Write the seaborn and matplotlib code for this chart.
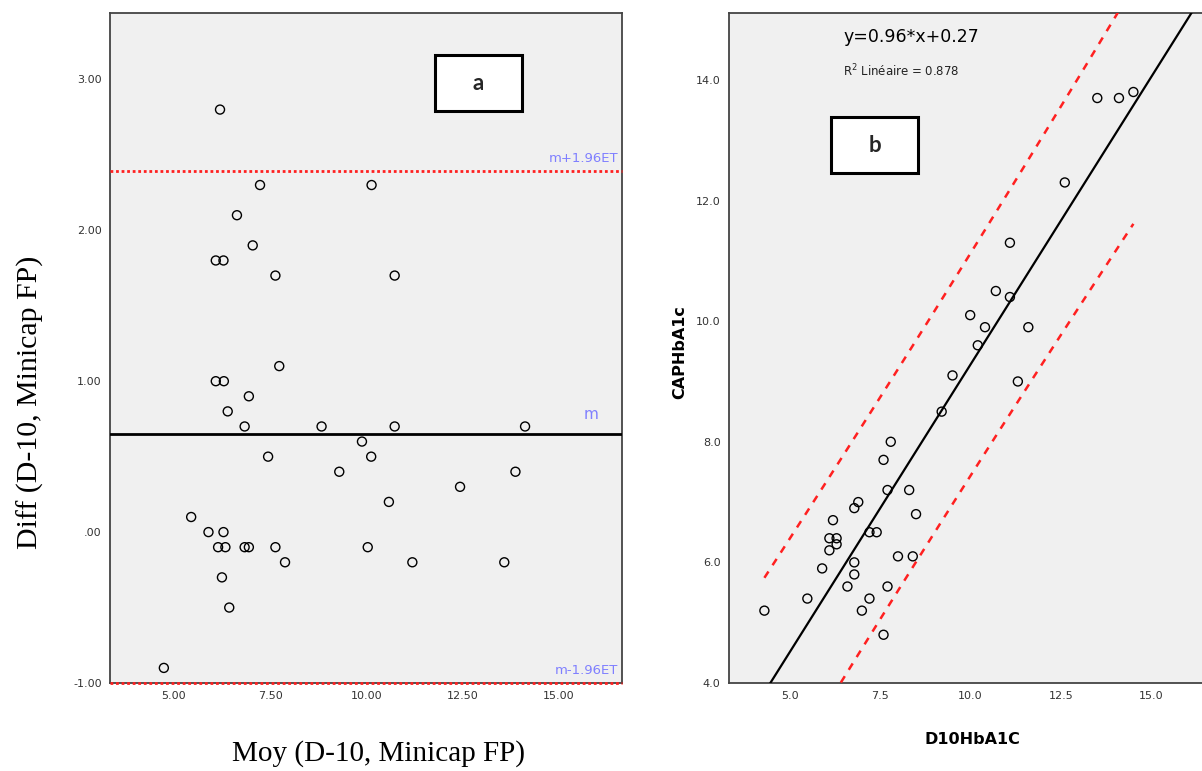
import numpy as np
import matplotlib
matplotlib.use("Agg")
import matplotlib.pyplot as plt
import seaborn as sns
from matplotlib.patches import Rectangle

#Panel a: Bland-Altman (mean of the two methods vs difference)
moy_a = [6.20, 7.24, 10.14, 6.64, 7.05, 6.09, 6.29, 7.64, 10.74,
         7.74, 6.09, 6.30, 6.95, 6.40, 6.84, 8.84, 10.74, 14.13, 9.89,
         7.45, 10.13, 9.30, 13.88, 12.44, 10.59, 5.45, 5.90, 6.29,
         6.15, 6.34, 6.84, 6.95, 7.64, 10.04, 7.89, 11.20, 13.59,
         6.25, 6.44, 4.74]
diff_a = [2.8, 2.3, 2.3, 2.1, 1.9, 1.8, 1.8, 1.7, 1.7,
          1.1, 1.0, 1.0, 0.9, 0.8, 0.7, 0.7, 0.7, 0.7, 0.6,
          0.5, 0.5, 0.4, 0.4, 0.3, 0.2, 0.1, 0.0, 0.0,
          -0.1, -0.1, -0.1, -0.1, -0.1, -0.1, -0.2, -0.2, -0.2,
          -0.3, -0.5, -0.9]
#reference lines: m-1.96ET, m, m+1.96ET
ref_lines = [-1.0, 0.65, 2.39]
ref_labels = ["m-1.96ET", "m", "m+1.96ET"]

#Panel b: D10 vs CAP HbA1c
d10 = [13.51, 14.11, 14.51, 12.61, 11.09, 10.70, 11.09, 9.99, 10.40, 11.60, 10.20,
       9.50, 11.31, 9.20, 7.79, 7.59, 7.70, 8.30, 6.89, 6.78, 8.49, 6.19, 7.20,
       7.40, 6.09, 6.29, 6.29, 6.09, 6.78, 7.99, 8.40, 5.89, 6.78, 6.59, 7.70,
       5.48, 7.20, 4.29, 6.99, 7.59]
cap = [13.7, 13.7, 13.8, 12.3, 11.3, 10.5, 10.4, 10.1, 9.9, 9.9, 9.6,
       9.1, 9.0, 8.5, 8.0, 7.7, 7.2, 7.2, 7.0, 6.9, 6.8, 6.7, 6.5,
       6.5, 6.4, 6.4, 6.3, 6.2, 6.0, 6.1, 6.1, 5.9, 5.8, 5.6, 5.6,
       5.4, 5.4, 5.2, 5.2, 4.8]
equation = "y=0.96*x+0.27"
r2_text = "R$^2$ Linéaire = 0.878"

a_xticks = [5.0, 7.5, 10.0, 12.5, 15.0]
a_xticklabels = ["5.00", "7.50", "10.00", "12.50", "15.00"]
a_yticks = [-1, 0, 1, 2, 3]
a_yticklabels = ["-1.00", ".00", "1.00", "2.00", "3.00"]
b_xticks = [5.0, 7.5, 10.0, 12.5, 15.0]
b_xticklabels = ["5.0", "7.5", "10.0", "12.5", "15.0"]
b_yticks = [4, 6, 8, 10, 12, 14]
b_yticklabels = ["4.0", "6.0", "8.0", "10.0", "12.0", "14.0"]

T_975 = 2.024  #student t, 38 degrees of freedom

sns.set_style("white")
plt.rcParams["font.family"] = ["DejaVu Sans"]

BG = "#f0f0f0"
SPINE = "#444444"
BLUE = "#7f7fff"

W, H = 1202, 771
fig = plt.figure(figsize=(W / 100, H / 100), dpi=100)


def fx(px):
    return px / W


def fy(py):
    return (H - py) / H


def style_axes(ax):
    ax.set_facecolor(BG)
    for s in ax.spines.values():
        s.set_color(SPINE)
        s.set_linewidth(1.3)
    ax.tick_params(direction="out", length=5, width=1.2, color=SPINE,
                   labelsize=8, labelcolor="#333333", pad=1)


def label_box(x0, y0, x1, y1, letter):
    fig.patches.append(Rectangle((fx(x0), fy(y1)), fx(x1) - fx(x0), fy(y0) - fy(y1),
                                 transform=fig.transFigure, facecolor="white",
                                 edgecolor="black", linewidth=2.2, zorder=5))
    fig.text(fx((x0 + x1) / 2), fy((y0 + y1) / 2), letter, ha="center", va="center",
             fontsize=16, fontweight="bold", family="Lato", zorder=6)


#---- panel a
ax_a = fig.add_axes([fx(110), fy(683), fx(622) - fx(110), fy(13) - fy(683)])
style_axes(ax_a)
sns.scatterplot(x=moy_a, y=diff_a, ax=ax_a, marker="o", s=42,
                facecolors="none", edgecolors="black", linewidth=1.0, zorder=4)
ax_a.set_xlim(3.34, 16.65)
ax_a.set_ylim(-1.0, 3.44)

#mean line solid black, limits red dotted
ax_a.axhline(ref_lines[1], color="black", lw=2.0, zorder=3)
for v in [ref_lines[0], ref_lines[2]]:
    ax_a.axhline(v, color="#ff2020", lw=2.0, ls=(0, (1, 1)), zorder=6, clip_on=False)

ax_a.text(16.55, ref_lines[2] + 0.04, ref_labels[2], ha="right", va="bottom",
          color=BLUE, fontsize=9.5)
ax_a.text(15.85, ref_lines[1] + 0.08, ref_labels[1], ha="center", va="bottom",
          color=BLUE, fontsize=11)
ax_a.text(16.55, ref_lines[0] + 0.04, ref_labels[0], ha="right", va="bottom",
          color=BLUE, fontsize=9.5)

ax_a.set_xticks(a_xticks, a_xticklabels)
ax_a.set_yticks(a_yticks, a_yticklabels)
ax_a.set_xlabel("")
ax_a.set_ylabel("")

fig.text(fx(30), fy(402), "Diff (D-10, Minicap FP)", rotation=90, ha="center",
         va="center", fontsize=21.5, family="Liberation Serif", color="black")
fig.text(fx(378), fy(754), "Moy (D-10, Minicap FP)", ha="center", va="center",
         fontsize=21, family="Liberation Serif", color="black")

#---- panel b
ax_b = fig.add_axes([fx(729), fy(683), 1.0 - fx(729), fy(13) - fy(683)])
style_axes(ax_b)
ax_b.spines["right"].set_visible(False)
ax_b.set_xlim(3.31, 16.41)
ax_b.set_ylim(4.0, 15.11)

sns.scatterplot(x=d10, y=cap, ax=ax_b, marker="o", s=42,
                facecolors="none", edgecolors="black", linewidth=1.0, zorder=4)
sns.regplot(x=np.array(d10), y=np.array(cap), ax=ax_b, scatter=False, ci=None,
            truncate=False, color="black", line_kws=dict(lw=1.6, zorder=3))

#95% prediction interval of individual values over the data range
x = np.array(d10)
y = np.array(cap)
n = len(x)
b1, b0 = np.polyfit(x, y, 1)
resid = y - (b0 + b1 * x)
s_res = np.sqrt(np.sum(resid ** 2) / (n - 2))
sxx = np.sum((x - x.mean()) ** 2)
xs = np.linspace(x.min(), x.max(), 100)
se = s_res * np.sqrt(1 + 1 / n + (xs - x.mean()) ** 2 / sxx)
fit = b0 + b1 * xs
for band in [fit + T_975 * se, fit - T_975 * se]:
    ax_b.plot(xs, band, color="#ff2020", lw=1.8, ls=(0, (3, 3)), zorder=3)

ax_b.set_xlim(3.31, 16.41)
ax_b.set_ylim(4.0, 15.11)
ax_b.set_xticks(b_xticks, b_xticklabels)
ax_b.set_yticks(b_yticks, b_yticklabels)
ax_b.set_xlabel("")
ax_b.set_ylabel("")

fig.text(fx(843), fy(37), equation, ha="left", va="center", fontsize=12.5,
         color="black")
fig.text(fx(843), fy(71), r2_text, ha="left", va="center", fontsize=8.5,
         color="#222222")

fig.text(fx(680), fy(352), "CAPHbA1c", rotation=90, ha="center", va="center",
         fontsize=11.5, fontweight="bold", color="black")
fig.text(fx(972), fy(740), "D10HbA1C", ha="center", va="center",
         fontsize=11.5, fontweight="bold", color="black")

label_box(435, 55, 522, 111, "a")
label_box(831, 117, 918, 173, "b")

fig.savefig("out.png", dpi=100, facecolor="white")
